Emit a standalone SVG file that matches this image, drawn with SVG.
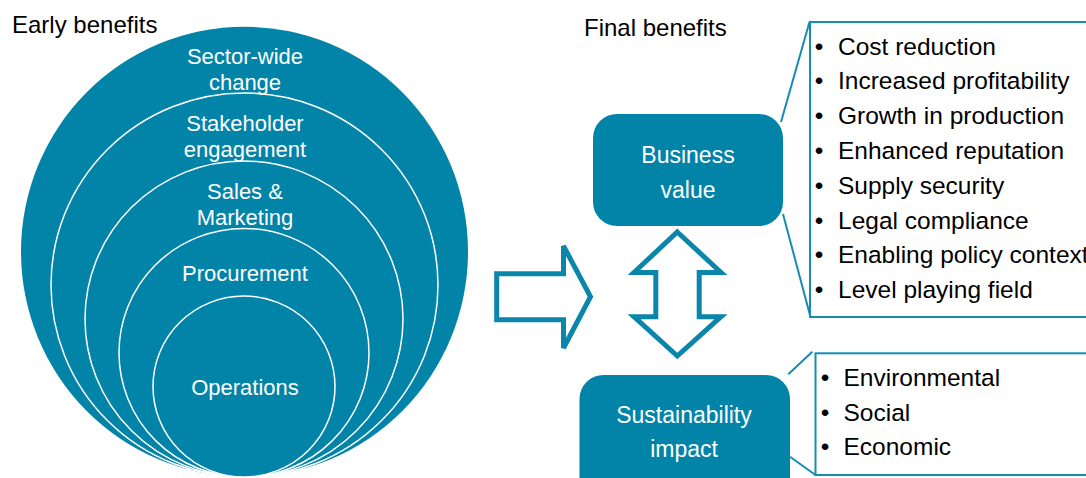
<svg xmlns="http://www.w3.org/2000/svg" width="1086" height="478" viewBox="0 0 1086 478">
<style>
.ring{fill:#0284A8;stroke:#ffffff;stroke-width:1.5}
.wl{font-family:"Liberation Sans",Arial,sans-serif;font-size:22px;fill:#ffffff;text-anchor:middle}
.bl{font-family:"Liberation Sans",Arial,sans-serif;font-size:23px;fill:#ffffff;text-anchor:middle}
.hd{font-family:"Liberation Sans",Arial,sans-serif;font-size:24px;fill:#000000}
.li{font-family:"Liberation Sans",Arial,sans-serif;font-size:24.5px;fill:#000000}
.bu{font-family:"Liberation Sans",Arial,sans-serif;font-size:24.5px;fill:#000000;text-anchor:middle}
.box{fill:#0284A8}
.co{fill:#ffffff;stroke:#168CB0;stroke-width:2}
.col{fill:none;stroke:#168CB0;stroke-width:2}
.arr{fill:#ffffff;stroke:#0A86AB;stroke-width:5;stroke-linejoin:miter}
</style>
<text class="hd" x="12" y="33">Early benefits</text>
<text class="hd" x="584" y="35.5">Final benefits</text>
<g id="early-benefits">
<ellipse id="c-sector" cx="244.5" cy="251.7" rx="223.5" ry="225" fill="#0284A8"/>
<ellipse id="c-stakeholder" class="ring" cx="244.5" cy="285" rx="193.5" ry="192"/>
<ellipse id="c-sales" class="ring" cx="244" cy="319" rx="159" ry="158"/>
<ellipse id="c-procurement" class="ring" cx="244" cy="352.7" rx="125" ry="124.3"/>
<ellipse id="c-operations" class="ring" cx="244" cy="386.5" rx="91" ry="90.5"/>
<text class="wl" x="245" y="63.5">Sector-wide</text>
<text class="wl" x="245" y="89.5">change</text>
<text class="wl" x="245" y="131">Stakeholder</text>
<text class="wl" x="245" y="156.5">engagement</text>
<text class="wl" x="245" y="198.5">Sales &amp;</text>
<text class="wl" x="245" y="225">Marketing</text>
<text class="wl" x="245" y="281">Procurement</text>
<text class="wl" x="245" y="395">Operations</text>
</g>
<g id="connectors">
<path id="arrow-right" class="arr" d="M496.7,273.8 L563.5,273.8 L563.5,246 L590.5,296.7 L563.5,348 L563.5,319.7 L496.7,319.7 Z"/>
<path id="arrow-updown" class="arr" d="M677.3,232 L721,272.5 L699.2,272.5 L699.2,316.7 L721,316.7 L677.3,356 L634,316.7 L655.8,316.7 L655.8,272.5 L634,272.5 Z"/>
<line class="col" x1="781" y1="122" x2="809.5" y2="22"/>
<line class="col" x1="783" y1="214" x2="810.5" y2="317"/>
<line class="col" x1="788.3" y1="374.3" x2="812.3" y2="351.7"/>
<line class="col" x1="790" y1="456.7" x2="815.5" y2="475"/>
</g>
<g id="business-value">
<rect class="box" x="593" y="114" width="190" height="112" rx="24"/>
<text class="bl" x="688" y="163">Business</text>
<text class="bl" x="688" y="197.5">value</text>
</g>
<g id="business-list">
<rect class="co" x="810" y="22" width="290" height="295"/>
<g class="bu">
<text x="819" y="54.5">•</text><text x="819" y="89.3">•</text><text x="819" y="124.1">•</text><text x="819" y="158.9">•</text>
<text x="819" y="193.7">•</text><text x="819" y="228.5">•</text><text x="819" y="263.3">•</text><text x="819" y="298.1">•</text>
</g>
<text class="li" x="838" y="54.5">Cost reduction</text>
<text class="li" x="838" y="89.3">Increased profitability</text>
<text class="li" x="838" y="124.1">Growth in production</text>
<text class="li" x="838" y="158.9">Enhanced reputation</text>
<text class="li" x="838" y="193.7">Supply security</text>
<text class="li" x="838" y="228.5">Legal compliance</text>
<text class="li" x="838" y="263.3">Enabling policy context</text>
<text class="li" x="838" y="298.1">Level playing field</text>
</g>
<g id="sustainability-impact">
<rect class="box" x="579.5" y="375" width="210.5" height="130" rx="24"/>
<text class="bl" x="684" y="422.5">Sustainability</text>
<text class="bl" x="684" y="457">impact</text>
</g>
<g id="sustainability-list">
<rect class="co" x="815.5" y="353.3" width="290" height="121.7"/>
<g class="bu">
<text x="825" y="385.7">•</text><text x="825" y="421">•</text><text x="825" y="455">•</text>
</g>
<text class="li" x="843.5" y="385.7">Environmental</text>
<text class="li" x="843.5" y="421">Social</text>
<text class="li" x="843.5" y="455">Economic</text>
</g>
</svg>
